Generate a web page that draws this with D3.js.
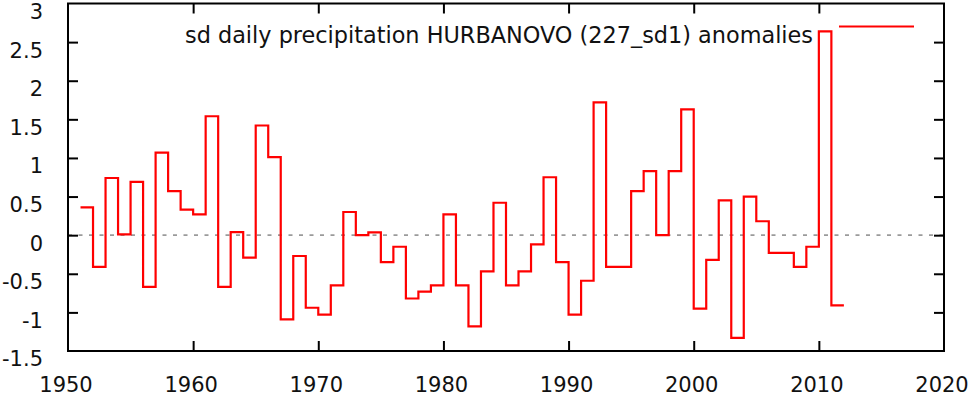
<!DOCTYPE html>
<html>
<head>
<meta charset="utf-8">
<script src="https://cdn.jsdelivr.net/npm/d3@7"></script>
<style>
  html, body { margin: 0; padding: 0; background: #fff; }
  svg { display: block; }
  text { font-family: "DejaVu Sans", sans-serif; fill: #111; }
</style>
</head>
<body>
<svg id="chart" width="968" height="396"></svg>
<script>
// ---- data ----
const years = [1951,1952,1953,1954,1955,1956,1957,1958,1959,1960,
               1961,1962,1963,1964,1965,1966,1967,1968,1969,1970,
               1971,1972,1973,1974,1975,1976,1977,1978,1979,1980,
               1981,1982,1983,1984,1985,1986,1987,1988,1989,1990,
               1991,1992,1993,1994,1995,1996,1997,1998,1999,2000,
               2001,2002,2003,2004,2005,2006,2007,2008,2009,2010,2011];
const anomalies = [0.36,-0.41,0.74,0.01,0.69,-0.67,1.07,0.57,0.33,0.27,
                   1.54,-0.67,0.04,-0.29,1.42,1.01,-1.09,-0.27,-0.94,-1.03,
                   -0.65,0.30,0.00,0.035,-0.35,-0.15,-0.82,-0.73,-0.65,0.27,
                   -0.65,-1.18,-0.47,0.42,-0.65,-0.47,-0.12,0.75,-0.35,-1.03,
                   -0.59,1.72,-0.41,-0.41,0.57,0.83,0.00,0.83,1.63,-0.95,
                   -0.32,0.45,-1.33,0.50,0.18,-0.23,-0.23,-0.41,-0.15,2.64,-0.91];
const xTicks = [1950,1960,1970,1980,1990,2000,2010,2020];
const xTickLabels = ["1950","1960","1970","1980","1990","2000","2010","2020"];
const yTicks = [-1.5,-1,-0.5,0,0.5,1,1.5,2,2.5,3];
const yTickLabels = ["-1.5","-1","-0.5","0","0.5","1","1.5","2","2.5","3"];
const title = "sd daily precipitation HURBANOVO (227_sd1) anomalies";

// ---- layout ----
const svg = d3.select("#chart");
const L = 68, R = 944, T = 3.5, B = 351;
const x = d3.scaleLinear().domain([1950, 2020]).range([L, R]);
const y = d3.scaleLinear().domain([-1.5, 3]).range([B, T]);

// zero line
svg.append("line")
  .attr("x1", L).attr("x2", R)
  .attr("y1", y(0)).attr("y2", y(0))
  .attr("stroke", "#9a9a9a").attr("stroke-width", 1.6)
  .attr("stroke-dasharray", "4,6.5");

// step line
const pts = years.map((yr, i) => ({x: yr, v: anomalies[i]}));
pts.push({x: years[years.length - 1] + 1, v: anomalies[anomalies.length - 1]});
const line = d3.line().x(d => x(d.x)).y(d => y(d.v)).curve(d3.curveStepAfter);
svg.append("path")
  .attr("d", line(pts))
  .attr("fill", "none")
  .attr("stroke", "#ff0000")
  .attr("stroke-width", 2.2)
  .attr("stroke-linejoin", "miter");

// axes
const fs = 21;
const xLabel = d => xTickLabels[xTicks.indexOf(d)];
const yLabel = d => yTickLabels[yTicks.indexOf(d)];

const gB = svg.append("g").attr("transform", `translate(0,${B})`)
  .call(d3.axisBottom(x).tickValues(xTicks).tickFormat(xLabel)
        .tickSizeInner(-10).tickSizeOuter(0).tickPadding(26));
const gT = svg.append("g").attr("transform", `translate(0,${T})`)
  .call(d3.axisTop(x).tickValues(xTicks.slice(1, -1)).tickFormat("")
        .tickSizeInner(-10).tickSizeOuter(0));
const gL = svg.append("g").attr("transform", `translate(${L},0)`)
  .call(d3.axisLeft(y).tickValues(yTicks).tickFormat(yLabel)
        .tickSizeInner(-10).tickSizeOuter(0).tickPadding(25));
const gR = svg.append("g").attr("transform", `translate(${R},0)`)
  .call(d3.axisRight(y).tickValues(yTicks.slice(1, -1)).tickFormat("")
        .tickSizeInner(-10).tickSizeOuter(0));

[gB, gT, gL, gR].forEach(g => {
  g.select(".domain").remove();
  g.selectAll(".tick line").attr("stroke", "#000").attr("stroke-width", 2);
  g.selectAll("text").attr("font-size", fs).attr("fill", "#111")
    .style("font-family", "'DejaVu Sans', sans-serif");
});
gB.selectAll(".tick").filter(d => d === 1950 || d === 2020).select("line").remove();
gL.selectAll(".tick").filter(d => d === -1.5 || d === 3).select("line").remove();
gB.selectAll("text").attr("dx", -2.5);
gL.selectAll("text").attr("dy", "0.71em");

// frame
svg.append("rect")
  .attr("x", L).attr("y", T)
  .attr("width", R - L).attr("height", B - T)
  .attr("fill", "none").attr("stroke", "#000").attr("stroke-width", 2);

// title / key
svg.append("text")
  .attr("x", 813).attr("y", 42.5)
  .attr("text-anchor", "end")
  .attr("font-size", 23)
  .attr("textLength", 628)
  .attr("lengthAdjust", "spacingAndGlyphs")
  .text(title);
svg.append("line")
  .attr("x1", 839).attr("x2", 914)
  .attr("y1", 26.5).attr("y2", 26.5)
  .attr("stroke", "#ff0000").attr("stroke-width", 2.2);
</script>
</body>
</html>
